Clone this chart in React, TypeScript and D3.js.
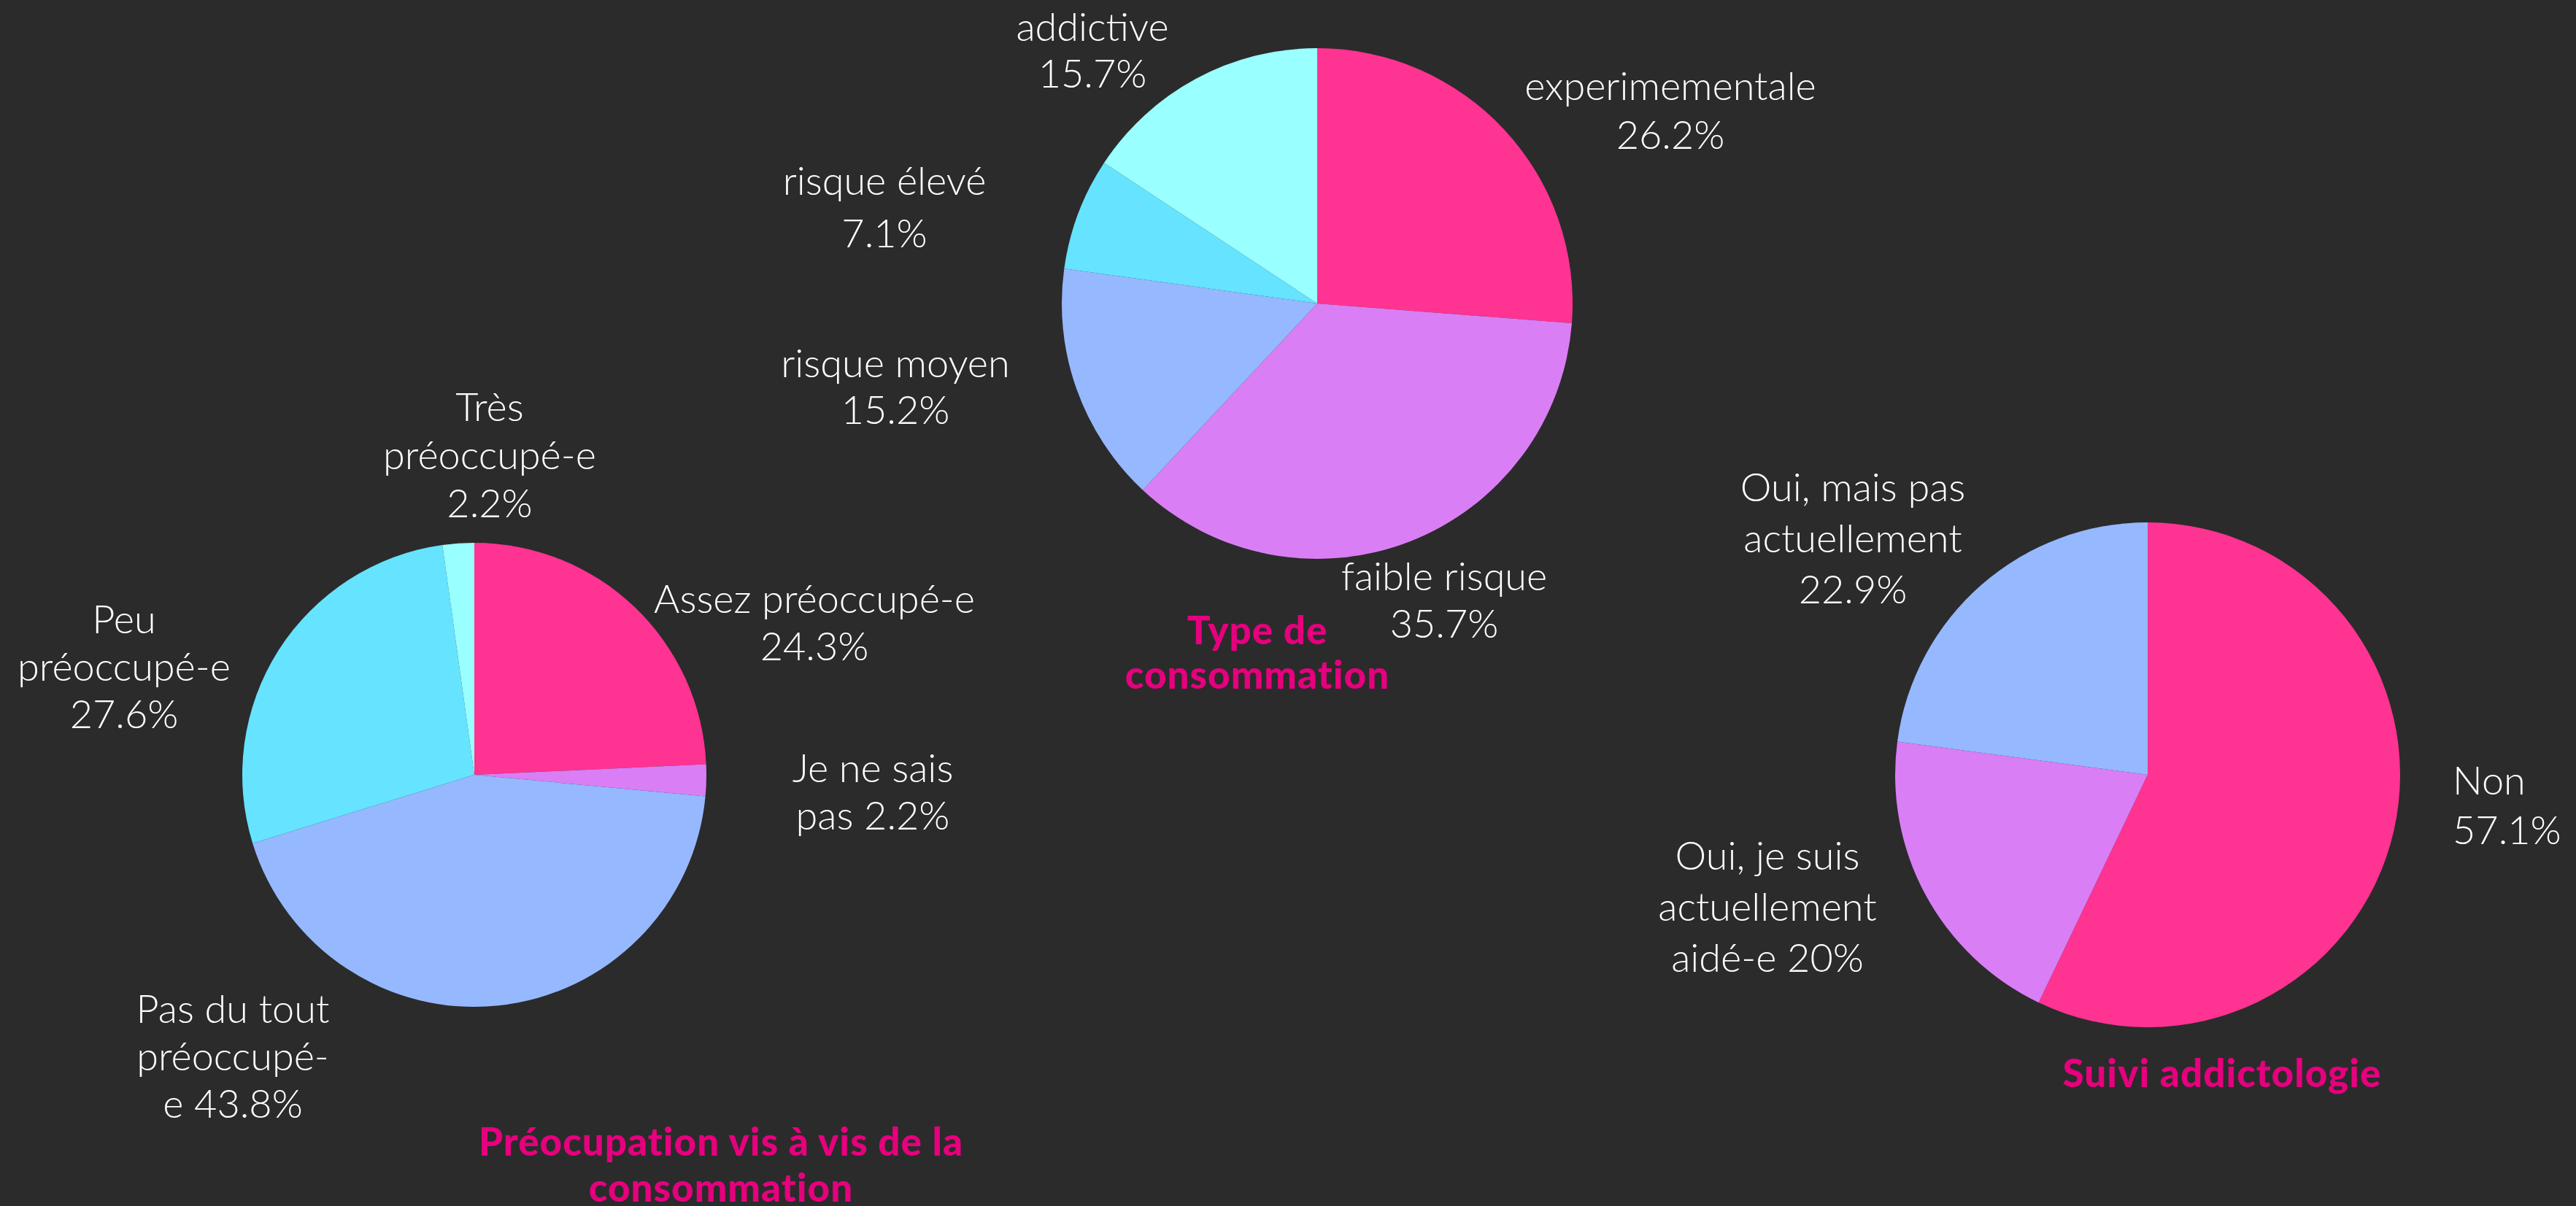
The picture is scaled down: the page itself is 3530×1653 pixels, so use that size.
import * as React from 'react';
import * as d3 from 'd3';

// --- data ---
const typeCategories = ['experimementale', 'faible risque', 'risque moyen', 'risque élevé', 'addictive'];
const typeValues = [26.2, 35.7, 15.2, 7.1, 15.7];
const typeLines = [['experimementale'], ['faible risque'], ['risque moyen'], ['risque élevé'], ['addictive']];

const preoCategories = ['Assez préoccupé-e', 'Je ne sais pas', 'Pas du tout préoccupé-e', 'Peu préoccupé-e', 'Très préoccupé-e'];
const preoValues = [24.3, 2.2, 43.8, 27.6, 2.2];
const preoLines = [['Assez préoccupé-e'], ['Je ne sais', 'pas '], ['Pas du tout', 'préoccupé-', 'e '], ['Peu', 'préoccupé-e'], ['Très', 'préoccupé-e']];

const suiviCategories = ['Non', 'Oui, je suis actuellement aidé-e', 'Oui, mais pas actuellement'];
const suiviValues = [57.1, 20, 22.9];
const suiviLines = [['Non'], ['Oui, je suis', 'actuellement', 'aidé-e '], ['Oui, mais pas', 'actuellement']];

const palette = ['#FF3392', '#DA7EF5', '#96B8FF', '#66E3FF', '#99FFFF'];

const W = 3530;
const H = 1653;
const BG = '#2B2B2B';
const TITLE = '#E6007E';
const FONT = 'Lato, "Open Sans", sans-serif';

interface LabelPos { x: number; y: number; lh: number; anchor?: string; }

interface PieSpec {
  categories: string[];
  values: number[];
  lines: string[][];
  cx: number;
  cy: number;
  r: number;
  title: string[];
  titlePos: LabelPos;
  labelPos: LabelPos[];
}

const pies: PieSpec[] = [
  {
    categories: typeCategories, values: typeValues, lines: typeLines,
    cx: 1805, cy: 416, r: 350,
    title: ['Type de', 'consommation'],
    titlePos: { x: 1723, y: 883, lh: 61 },
    labelPos: [
      { x: 2289, y: 137, lh: 67 },
      { x: 1979, y: 809, lh: 65 },
      { x: 1227, y: 517, lh: 64 },
      { x: 1212, y: 267, lh: 72 },
      { x: 1497, y: 56, lh: 64 },
    ],
  },
  {
    categories: preoCategories, values: preoValues, lines: preoLines,
    cx: 650, cy: 1062, r: 318,
    title: ['Préocupation vis à vis de la', 'consommation'],
    titlePos: { x: 988, y: 1584, lh: 63 },
    labelPos: [
      { x: 1116, y: 840, lh: 65 },
      { x: 1196, y: 1072, lh: 65 },
      { x: 319, y: 1402, lh: 65 },
      { x: 170, y: 868, lh: 65 },
      { x: 671, y: 577, lh: 66 },
    ],
  },
  {
    categories: suiviCategories, values: suiviValues, lines: suiviLines,
    cx: 2943, cy: 1062, r: 346,
    title: ['Suivi addictologie'],
    titlePos: { x: 3045, y: 1490, lh: 62 },
    labelPos: [
      { x: 3361, y: 1089, lh: 68, anchor: 'start' },
      { x: 2422, y: 1192, lh: 70 },
      { x: 2539, y: 687, lh: 70 },
    ],
  },
];

const fmt = (v: number) => `${v}%`;

// the percentage goes on its own line unless the last line ends with a space
const labelText = (lines: string[], v: number): string[] => {
  const last = lines[lines.length - 1];
  if (last.endsWith(' ')) return [...lines.slice(0, -1), last + fmt(v)];
  return [...lines, fmt(v)];
};

const Pie: React.FC<{ spec: PieSpec }> = ({ spec }) => {
  const pie = d3.pie<number>().sort(null).value(d => d);
  const arcs = pie(spec.values);
  const arc = d3.arc<d3.PieArcDatum<number>>().innerRadius(0).outerRadius(spec.r);
  const color = d3.scaleOrdinal<string, string>().domain(spec.categories).range(palette);

  return (
    <g>
      <g transform={`translate(${spec.cx},${spec.cy})`}>
        {arcs.map((a, i) => (
          <path key={i} d={arc(a) || ''} fill={color(spec.categories[i])} />
        ))}
      </g>
      {arcs.map((a, i) => {
        const p = spec.labelPos[i];
        const txt = labelText(spec.lines[i], a.data);
        return (
          <text key={`l${i}`} x={p.x} y={p.y} textAnchor={p.anchor || 'middle'}
            fill="#FFFFFF" fontFamily={FONT} fontWeight={300} fontSize={54}>
            {txt.map((t, j) => (
              <tspan key={j} x={p.x} y={p.y + j * p.lh}>{t}</tspan>
            ))}
          </text>
        );
      })}
      <text x={spec.titlePos.x} y={spec.titlePos.y} textAnchor="middle"
        fill={TITLE} fontFamily={FONT} fontWeight={900} fontSize={53} letterSpacing={1}>
        {spec.title.map((t, j) => (
          <tspan key={j} x={spec.titlePos.x} y={spec.titlePos.y + j * spec.titlePos.lh}>{t}</tspan>
        ))}
      </text>
    </g>
  );
};

const App: React.FC = () => {
  React.useEffect(() => {
    document.body.style.margin = '0';
    document.body.style.background = BG;
  }, []);

  return (
    <div style={{ position: 'absolute', left: 0, top: 0, width: W, height: H, background: BG }}>
      <svg width={W} height={H} viewBox={`0 0 ${W} ${H}`} style={{ display: 'block' }}>
        <rect width={W} height={H} fill={BG} />
        {pies.map((p, i) => <Pie key={i} spec={p} />)}
      </svg>
    </div>
  );
};

export default App;
